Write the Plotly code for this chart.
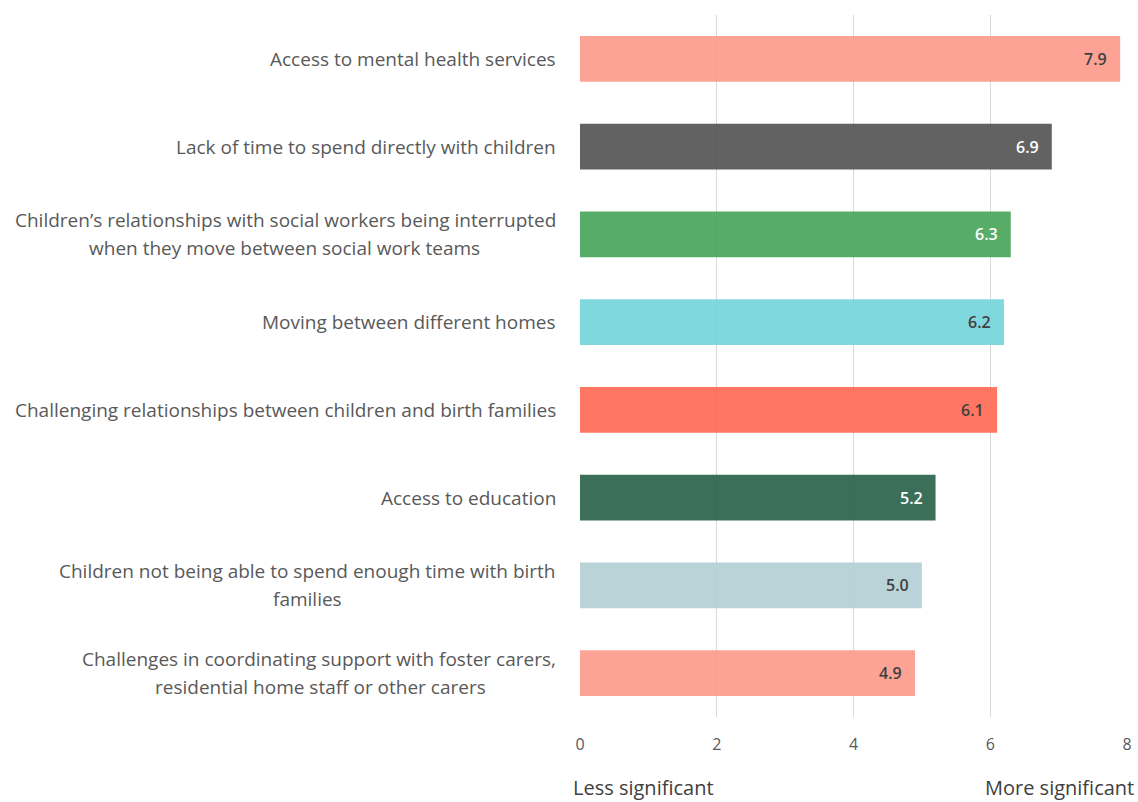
import plotly.graph_objects as go

# Issues ranked by mean significance score (0 = less, 8 = more significant)
categories = [
    "Access to mental health services",
    "Lack of time to spend directly with children",
    "Children\u2019s relationships with social workers being interrupted\nwhen they move between social work teams",
    "Moving between different homes",
    "Challenging relationships between children and birth families",
    "Access to education",
    "Children not being able to spend enough time with birth\nfamilies",
    "Challenges in coordinating support with foster carers,\nresidential home staff or other carers",
]
scores = [7.9, 6.9, 6.3, 6.2, 6.1, 5.2, 5.0, 4.9]
bar_colors = ["#FC998A", "#515151", "#45A458", "#72D4DB", "#FF6752", "#265F47", "#B1CED4", "#FC998A"]
label_colors = ["#404040", "#FFFFFF", "#FFFFFF", "#404040", "#404040", "#FFFFFF", "#404040", "#404040"]
x_ticks = [0, 2, 4, 6, 8]
axis_end_labels = ["Less significant", "More significant"]

ids = [f"c{i}" for i in range(len(categories))]

fig = go.Figure(
    go.Bar(
        y=ids,
        x=scores,
        orientation="h",
        marker=dict(color=bar_colors, opacity=0.9, line=dict(width=0)),
        hoverinfo="skip",
    )
)

PLOT_LEFT = 580
LABEL_FONT = dict(family="Open Sans", size=19, color="#595959")
# horizontal centre (px) of each wrapped label block
wrap_centers = {2: 284, 6: 307, 7: 320}

annotations = []
for i, (cid, text) in enumerate(zip(ids, categories)):
    lines = text.split("\n")
    if len(lines) == 1:
        annotations.append(dict(
            x=0, xref="paper", y=cid, yref="y", text=lines[0], showarrow=False,
            xanchor="right", yanchor="middle", xshift=-22, font=LABEL_FONT,
        ))
    else:
        annotations.append(dict(
            x=0, xref="paper", y=cid, yref="y", text=lines[0], showarrow=False,
            xanchor="right", yanchor="middle", xshift=-22, yshift=14, font=LABEL_FONT,
        ))
        annotations.append(dict(
            x=0, xref="paper", y=cid, yref="y", text=lines[1], showarrow=False,
            xanchor="center", yanchor="middle", xshift=wrap_centers[i] - PLOT_LEFT,
            yshift=-14, font=LABEL_FONT,
        ))

# Value labels inside the bar ends
for cid, v, c in zip(ids, scores, label_colors):
    annotations.append(dict(
        x=v, xref="x", y=cid, yref="y", text=f"{v:.1f}", showarrow=False,
        xanchor="right", yanchor="middle", xshift=-11,
        font=dict(family="Open Sans", size=16, color=c, weight=600),
    ))

annotations.append(dict(
    x=0, xref="paper", y=-0.101, yref="paper", text=axis_end_labels[0], showarrow=False,
    xanchor="left", yanchor="middle", xshift=-9,
    font=dict(family="Open Sans", size=20, color="#404040"),
))
annotations.append(dict(
    x=1, xref="paper", y=-0.101, yref="paper", text=axis_end_labels[1], showarrow=False,
    xanchor="right", yanchor="middle", xshift=9,
    font=dict(family="Open Sans", size=20, color="#404040"),
))

fig.update_layout(
    width=1138,
    height=802,
    margin=dict(l=PLOT_LEFT, r=6, t=15, b=85),
    paper_bgcolor="white",
    plot_bgcolor="white",
    bargap=0.476,
    showlegend=False,
    annotations=annotations,
    xaxis=dict(
        range=[0, 8],
        tickvals=x_ticks,
        showgrid=True,
        gridcolor="#D9D9D9",
        gridwidth=1,
        zeroline=False,
        showline=False,
        ticks="",
        ticklabelstandoff=16,
        tickfont=dict(family="Open Sans", size=16, color="#595959"),
    ),
    yaxis=dict(
        categoryorder="array",
        categoryarray=ids,
        autorange="reversed",
        showticklabels=False,
        showgrid=False,
        zeroline=False,
        ticks="",
    ),
)

fig.write_html("out.html")
